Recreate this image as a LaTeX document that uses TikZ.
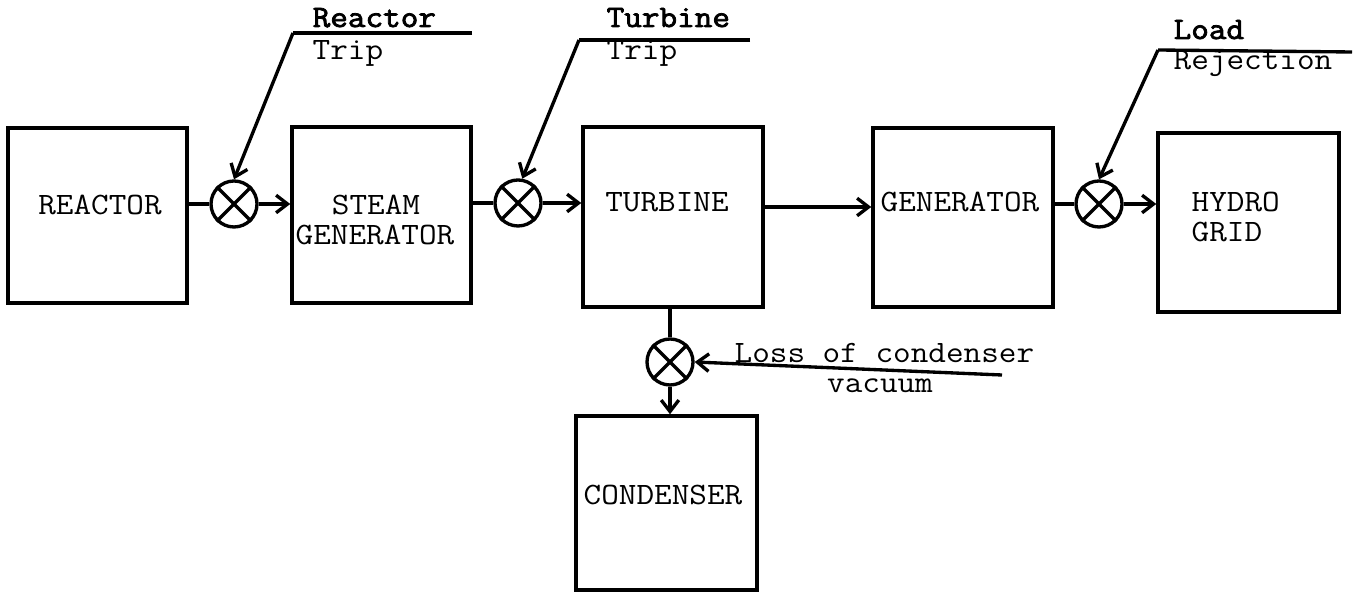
\documentclass[tikz,border=0pt]{standalone}
\usepackage{fontspec}
\newfontfamily\cour[FakeStretch=1.1,BoldFont={Latin Modern Mono},BoldFeatures={FakeBold=2.5}]{Latin Modern Mono}
\usetikzlibrary{arrows.meta}
\begin{document}
\begin{tikzpicture}[x=0.02cm,y=-0.02cm,
  line width=1.9pt,
  blk/.style={draw,line width=2pt,rectangle,inner sep=0pt},
  vlv/.style={draw,line width=1.9pt,circle,minimum size=46*0.02cm,inner sep=0pt},
  txt/.style={font=\cour\fontsize{17.7}{20}\selectfont,inner sep=0pt},
  btxt/.style={font=\cour\fontsize{17.7}{20}\selectfont\bfseries,inner sep=0pt},
  arr/.style={-{Straight Barb[length=6.5pt,width=10pt,line width=1.9pt]}},
]
\def\pxu{0.02cm}
\useasboundingbox (0,0) rectangle (1356,597);
% blocks
\node[blk,minimum width=179*\pxu,minimum height=175*\pxu] (reactor) at (97.5,215.5) {};
\node[blk,minimum width=179*\pxu,minimum height=176*\pxu] (sg) at (381.5,215) {};
\node[blk,minimum width=180*\pxu,minimum height=180*\pxu] (turbine) at (673,217) {};
\node[blk,minimum width=180*\pxu,minimum height=179*\pxu] (gen) at (963,217.5) {};
\node[blk,minimum width=181*\pxu,minimum height=179*\pxu] (grid) at (1248.5,222.5) {};
\node[blk,minimum width=181*\pxu,minimum height=174*\pxu] (cond) at (666.5,503) {};
% block texts
\node[txt] (treactor) at (100,205) {REACTOR};
\node[txt] (tsteam) at (376,205) {STEAM};
\node[txt] (tsg) at (375,235) {GENERATOR};
\node[txt] (tturb) at (667,202) {TURBINE};
\node[txt] (tgen) at (960,202) {GENERATOR};
\node[txt,anchor=west] (thydro) at (1190,202) {HYDRO};
\node[txt,anchor=west] (tgrid) at (1190,232) {GRID};
\node[txt] (tcond) at (663,495) {CONDENSER};
% valves
\node[vlv] (v1) at (234,204) {};
\node[vlv] (v2) at (518,203) {};
\node[vlv] (v3) at (1099,204) {};
\node[vlv] (v4) at (670,362) {};
\foreach \v in {v1,v2,v3,v4}{
  \draw (\v.45) -- (\v.225);
  \draw (\v.135) -- (\v.315);
}
% main flow
\draw (reactor.east |- v1) -- (v1.west);
\draw[arr] (v1.east) -- (sg.west |- v1);
\draw (sg.east |- v2) -- (v2.west);
\draw[arr] (v2.east) -- (turbine.west |- v2);
\draw[arr] (turbine.east |- 0,207) -- (gen.west |- 0,207);
\draw (gen.east |- v3) -- (v3.west);
\draw[arr] (v3.east) -- (grid.west |- v3);
\draw (turbine.south -| v4) -- (v4.north);
\draw[arr] (v4.south) -- (cond.north -| v4);
% reactor trip
\coordinate (rt1) at (293,33);
\coordinate (rt2) at (472,33);
\draw (rt2) -- (rt1);
\draw[arr] (rt1) -- (v1.north);
\node[btxt,anchor=base west] (lreactor) at (311,27) {Reactor};
\node[txt,anchor=base west] (ltrip1) at (311,60) {Trip};
% turbine trip
\coordinate (tt1) at (579,40);
\coordinate (tt2) at (750,40);
\draw (tt2) -- (tt1);
\draw[arr] (tt1) -- (v2.80);
\node[btxt,anchor=base west] (lturb) at (605,27) {Turbine};
\node[txt,anchor=base west] (ltrip2) at (605,60) {Trip};
% load rejection
\coordinate (lr1) at (1158,50);
\coordinate (lr2) at (1352,52);
\draw (lr2) -- (lr1);
\draw[arr] (lr1) -- (v3.north);
\node[btxt,anchor=base west] (lload) at (1172,39) {Load};
\node[txt,anchor=base west] (lrej) at (1172,70) {Rejection};
% loss of condenser vacuum
\coordinate (lc1) at (1002,375);
\draw[arr] (lc1) -- (v4.east);
\node[txt,anchor=base west] (lloss) at (733,363) {Loss of condenser};
\node[txt,anchor=base] (lvac) at (880,393) {vacuum};
\end{tikzpicture}
\end{document}
